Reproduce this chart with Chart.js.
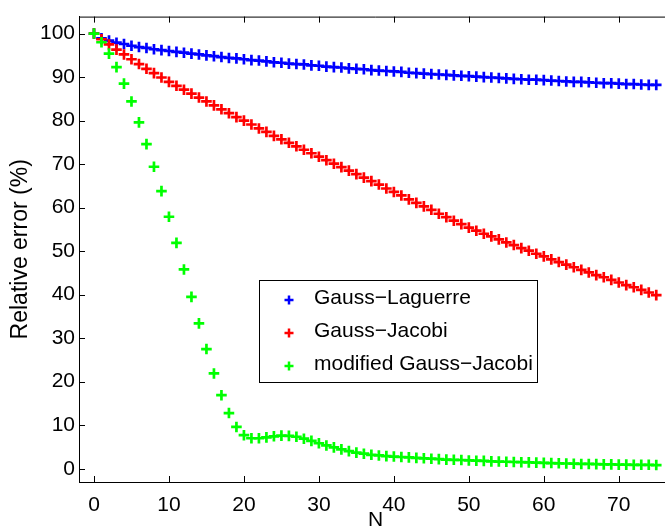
<!DOCTYPE html>
<html>
<head>
<meta charset="utf-8">
<script src="https://cdn.jsdelivr.net/npm/chart.js@4.4.1/dist/chart.umd.min.js"></script>
<style>
    html, body { margin: 0; padding: 0; background: #fff; overflow: hidden; }
    #wrap { width: 680px; height: 530px; }
</style>
</head>
<body>
<div id="wrap"><canvas id="errorChart" width="680" height="530"></canvas></div>
<script>
/* ==========================================================
   DATA
========================================================== */

const nValues = [
    0, 1, 2, 3, 4, 5, 6, 7, 8, 9,
    10, 11, 12, 13, 14, 15, 16, 17, 18, 19,
    20, 21, 22, 23, 24, 25, 26, 27, 28, 29,
    30, 31, 32, 33, 34, 35, 36, 37, 38, 39,
    40, 41, 42, 43, 44, 45, 46, 47, 48, 49,
    50, 51, 52, 53, 54, 55, 56, 57, 58, 59,
    60, 61, 62, 63, 64, 65, 66, 67, 68, 69,
    70, 71, 72, 73, 74, 75
];

const laguerreError = [
    100, 98.9, 98.4, 97.9, 97.6, 97.2, 96.9, 96.7, 96.4, 96.2,
    96.0, 95.8, 95.6, 95.4, 95.2, 95.0, 94.8, 94.6, 94.4, 94.3,
    94.1, 93.9, 93.8, 93.6, 93.4, 93.3, 93.1, 93.0, 92.9, 92.7,
    92.6, 92.4, 92.3, 92.2, 92.0, 91.9, 91.8, 91.6, 91.5, 91.4,
    91.3, 91.2, 91.0, 90.9, 90.8, 90.7, 90.6, 90.5, 90.4, 90.3,
    90.2, 90.1, 90.0, 89.9, 89.8, 89.7, 89.6, 89.5, 89.4, 89.4,
    89.3, 89.2, 89.1, 89.0, 88.9, 88.9, 88.8, 88.7, 88.6, 88.6,
    88.5, 88.4, 88.4, 88.3, 88.2, 88.2
];

const jacobiError = [
    100, 98.7, 97.5, 96.3, 95.2, 94.1, 93.0, 91.9, 90.9, 89.9,
    88.9, 88.0, 87.1, 86.2, 85.3, 84.4, 83.5, 82.6, 81.7, 80.8,
    80.0, 79.1, 78.2, 77.4, 76.5, 75.7, 74.9, 74.1, 73.3, 72.5,
    71.7, 70.9, 70.1, 69.3, 68.5, 67.7, 66.9, 66.1, 65.3, 64.4,
    63.6, 62.8, 61.9, 61.1, 60.3, 59.5, 58.6, 57.8, 57.0, 56.2,
    55.4, 54.7, 54.0, 53.4, 52.7, 52.0, 51.4, 50.7, 50.1, 49.4,
    48.8, 48.1, 47.5, 46.9, 46.3, 45.7, 45.1, 44.5, 44.0, 43.4,
    42.8, 42.2, 41.7, 41.1, 40.5, 39.9
];

const modJacobiError = [
    100, 98.0, 95.4, 92.3, 88.5, 84.4, 79.6, 74.6, 69.4, 63.8,
    57.9, 51.9, 45.8, 39.5, 33.4, 27.5, 21.9, 16.9, 12.8, 9.6,
    7.7, 7.0, 7.0, 7.2, 7.45, 7.6, 7.55, 7.35, 6.9, 6.4,
    5.85, 5.35, 4.9, 4.45, 4.05, 3.7, 3.45, 3.2, 3.05, 2.9,
    2.8, 2.7, 2.6, 2.5, 2.4, 2.3, 2.2, 2.1, 2.05, 2.0,
    1.9, 1.85, 1.8, 1.7, 1.65, 1.6, 1.55, 1.5, 1.45, 1.4,
    1.35, 1.3, 1.25, 1.2, 1.15, 1.1, 1.1, 1.05, 1.0, 1.0,
    0.95, 0.95, 0.9, 0.9, 0.9, 0.85
];

const seriesNames = ["Gauss\u2212Laguerre", "Gauss\u2212Jacobi", "modified Gauss\u2212Jacobi"];
const seriesColors = ["#0000ff", "#ff0000", "#00ff00"];

const xTicks = [0, 10, 20, 30, 40, 50, 60, 70];
const yTicks = [0, 10, 20, 30, 40, 50, 60, 70, 80, 90, 100];

const FONT = "'Liberation Sans', Arial, Helvetica, sans-serif";

/* ==========================================================
   HELPERS
========================================================== */

function toPoints(values) {

    return nValues.map((n, i) => ({ x: n, y: values[i] }));

}

function drawCross(ctx, x, y, r, color, width) {

    ctx.strokeStyle = color;
    ctx.lineWidth = width;
    ctx.beginPath();
    ctx.moveTo(x - r, y);
    ctx.lineTo(x + r, y);
    ctx.moveTo(x, y - r);
    ctx.lineTo(x, y + r);
    ctx.stroke();

}

/* ==========================================================
   PLUGIN: MATLAB STYLE BOX, INNER TICKS, LEGEND
========================================================== */

const matlabFrame = {

    id: "matlabFrame",

    afterDraw(chart) {

        const { ctx, chartArea: a, scales } = chart;
        const tick = 6;

        ctx.save();

        ctx.strokeStyle = "#000";
        ctx.lineWidth = 1;
        ctx.beginPath();

        ctx.moveTo(a.left, a.top + 0.5);
        ctx.lineTo(a.right, a.top + 0.5);
        ctx.moveTo(a.right - 0.5, a.top);
        ctx.lineTo(a.right - 0.5, a.bottom);

        xTicks.forEach(v => {
            const px = Math.round(scales.x.getPixelForValue(v)) + 0.5;
            ctx.moveTo(px, a.bottom);
            ctx.lineTo(px, a.bottom - tick);
            ctx.moveTo(px, a.top);
            ctx.lineTo(px, a.top + tick);
        });

        yTicks.forEach(v => {
            const py = Math.round(scales.y.getPixelForValue(v)) + 0.5;
            ctx.moveTo(a.left, py);
            ctx.lineTo(a.left + tick, py);
            ctx.moveTo(a.right, py);
            ctx.lineTo(a.right - tick, py);
        });

        ctx.stroke();

        // legend box
        const box = { x: 259.5, y: 280.5, w: 278, h: 102 };

        ctx.fillStyle = "#fff";
        ctx.fillRect(box.x, box.y, box.w, box.h);
        ctx.strokeStyle = "#000";
        ctx.lineWidth = 1;
        ctx.strokeRect(box.x, box.y, box.w, box.h);

        ctx.font = "21px " + FONT;
        ctx.textAlign = "left";
        ctx.textBaseline = "alphabetic";
        ctx.fillStyle = "#000";

        seriesNames.forEach((name, i) => {
            const base = 303.5 + i * 33;
            drawCross(ctx, 289, base - 3.5, 4.5, seriesColors[i], 2.5);
            ctx.fillText(name, 314, base);
        });

        ctx.restore();

    }

};

/* ==========================================================
   CHART
========================================================== */

Chart.defaults.font.family = FONT;
Chart.defaults.font.size = 21;
Chart.defaults.color = "#000";

function makeSet(idx, values, order) {

    return {
        label: seriesNames[idx],
        data: toPoints(values),
        showLine: false,
        pointStyle: "cross",
        pointRadius: 5.3,
        pointHoverRadius: 5.3,
        pointBorderWidth: 2.7,
        borderColor: seriesColors[idx],
        backgroundColor: seriesColors[idx],
        order
    };

}

const ctx = document.getElementById("errorChart").getContext("2d");

new Chart(ctx, {

    type: "scatter",

    data: {
        datasets: [
            makeSet(0, laguerreError, 3),
            makeSet(1, jacobiError, 2),
            makeSet(2, modJacobiError, 1)
        ]
    },

    options: {

        responsive: false,
        animation: false,

        layout: {
            padding: { top: 12, right: 5, bottom: 0, left: 0 }
        },

        plugins: {
            legend: { display: false },
            tooltip: { enabled: false }
        },

        scales: {

            x: {
                type: "linear",
                min: -2,
                max: 77.1,
                afterBuildTicks: s => { s.ticks = xTicks.map(v => ({ value: v })); },
                afterFit: s => { s.height = 48; },
                grid: { display: false, drawTicks: false },
                border: { display: true, color: "#000", width: 1 },
                ticks: { padding: 11, font: { size: 21 } },
                title: {
                    display: true,
                    text: "N",
                    font: { size: 21, lineHeight: 1 },
                    padding: { top: 0, bottom: -1 }
                }
            },

            y: {
                type: "linear",
                min: -3.05,
                max: 103.9,
                afterBuildTicks: s => { s.ticks = yTicks.map(v => ({ value: v })); },
                afterFit: s => { s.width = 79; },
                grid: { display: false, drawTicks: false },
                border: { display: true, color: "#000", width: 1 },
                ticks: { padding: 4, font: { size: 21 } },
                title: {
                    display: true,
                    text: "Relative error (%)",
                    font: { size: 23, lineHeight: 1 },
                    padding: { top: 9, bottom: 0 }
                }
            }

        }

    },

    plugins: [matlabFrame]

});
</script>
</body>
</html>
